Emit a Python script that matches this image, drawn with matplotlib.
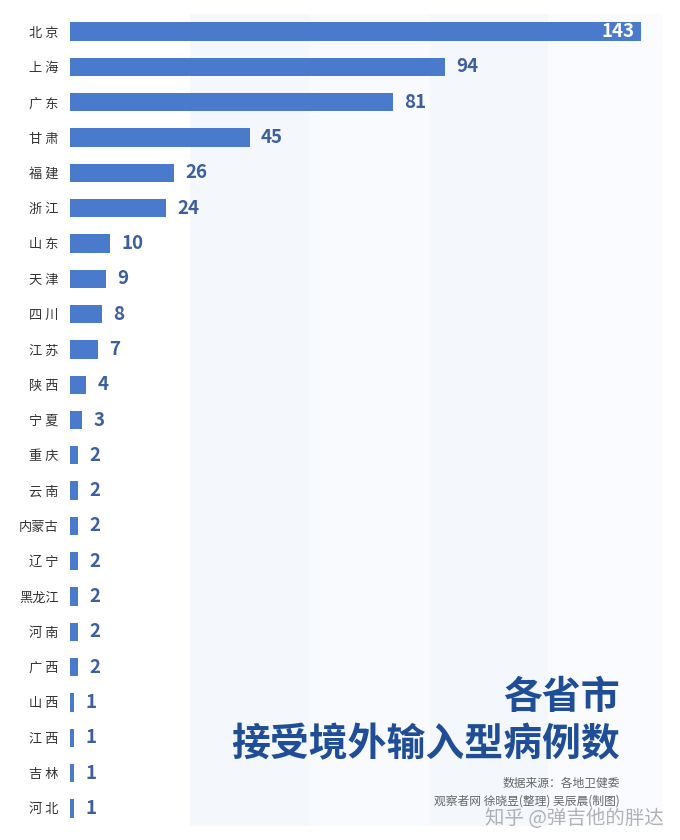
import matplotlib
matplotlib.use("Agg")
import matplotlib.pyplot as plt
from matplotlib.patches import Rectangle

plt.rcParams['font.family'] = ['Noto Sans CJK SC', 'DejaVu Sans']

provinces = ["北 京","上 海","广 东","甘 肃","福 建","浙 江","山 东","天 津","四 川","江 苏","陕 西","宁 夏",
             "重 庆","云 南","内蒙古","辽 宁","黑龙江","河 南","广 西","山 西","江 西","吉 林","河 北"]
values = [143,94,81,45,26,24,10,9,8,7,4,3,2,2,2,2,2,2,2,1,1,1,1]

fig = plt.figure(figsize=(6.8, 8.4), dpi=100)
fig.patch.set_facecolor('white')
for x0, x1, c in [(190, 310, '#f4f7fc'), (310, 430, '#f8fafd'), (430, 548, '#f4f7fc'), (548, 662, '#f9fbfe')]:
    fig.patches.append(Rectangle((x0/680, 14/840), (x1-x0)/680, 812/840, transform=fig.transFigure,
                                 facecolor=c, edgecolor='none', zorder=-5))

ax = fig.add_axes([70/680, 14/840, 590/680, 812/840])
ax.set_zorder(1)
ax.set_facecolor('none')
ax.patch.set_alpha(0)
n = len(values)
ys = list(range(n))
ax.barh(ys, values, height=0.52, color='#4a7acc', zorder=2)
ax.set_xlim(0, 590/3.99)
ax.set_ylim(n-0.5, -0.5)
for s in ax.spines.values():
    s.set_visible(False)
ax.set_xticks([])
ax.set_yticks(ys)
ax.set_yticklabels(provinces, fontsize=9.5, color='#333333')
ax.tick_params(axis='y', length=0, pad=8)
for y, v in zip(ys, values):
    if v == max(values):
        ax.text(v - 1.5, y, str(v), ha='right', va='center', color='white', fontsize=13.5, fontweight='semibold')
    else:
        ax.text(v + 2.8, y, str(v), ha='left', va='center', color='#3d5f9e', fontsize=13.5, fontweight='semibold')

fig.text(620/680, 1-697/840, "各省市", ha='right', va='center', fontsize=28, fontweight='heavy', color='#1f4e96', zorder=5)
fig.text(620/680, 1-745/840, "接受境外输入型病例数", ha='right', va='center', fontsize=28, fontweight='heavy', color='#1f4e96', zorder=5)
fig.text(620/680, 1-783/840, "数据来源：各地卫健委", ha='right', va='center', fontsize=8.5, color='#666666', zorder=5)
fig.text(620/680, 1-801/840, "观察者网 徐晓昱(整理) 吴辰晨(制图)", ha='right', va='center', fontsize=8.5, color='#666666', zorder=5)
fig.text(664/680, 1-818/840, "知乎 @弹吉他的胖达", ha='right', va='center', fontsize=14, color='#9a9a9a', alpha=0.75, zorder=6)

fig.savefig("out.png", dpi=100)
